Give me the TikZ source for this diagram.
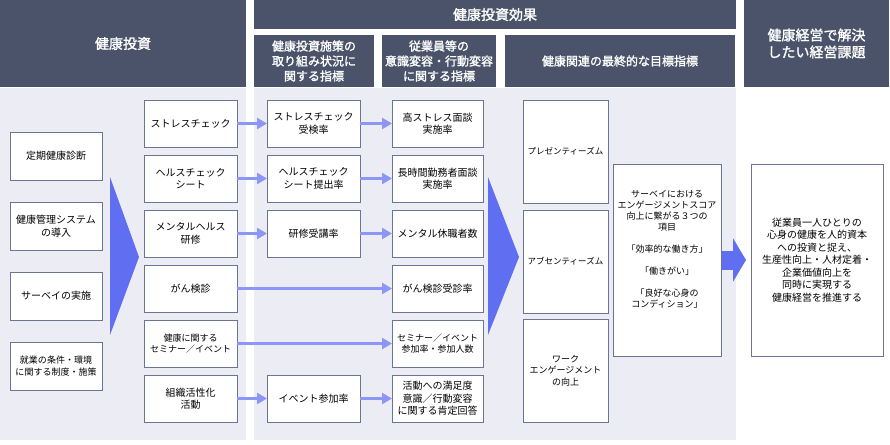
\documentclass[tikz,border=0pt]{standalone}
\usepackage{fontspec}
\setmainfont{Noto Sans CJK JP}[AutoFakeBold=1.5]
\usetikzlibrary{arrows.meta,positioning}
\definecolor{hdrgray}{RGB}{74,83,105}
\definecolor{panelgray}{RGB}{236,237,244}
\definecolor{boxline}{RGB}{108,116,150}
\definecolor{chevblue}{RGB}{96,110,242}
\definecolor{arrowblue}{RGB}{140,150,246}
\tikzset{
hdr/.style 2 args={fill=hdrgray,text=white,anchor=north west,inner sep=0pt,outer sep=0pt,align=center,minimum width=#1,minimum height=#2,font=\fontsize{14}{17}\selectfont\bfseries},
subhdr/.style 2 args={hdr={#1}{#2},font=\fontsize{12}{15}\selectfont\bfseries},
block/.style={draw=boxline,fill=white,line width=.9pt,align=center,minimum width=93pt,minimum height=47pt,inner sep=1pt,outer sep=0pt,font=\fontsize{10}{12.5}\selectfont},
leftblock/.style={block,minimum width=92pt,minimum height=48pt},
tallblock/.style={block,minimum width=85pt,minimum height=103pt,font=\fontsize{8.5}{11}\selectfont},
bigblock/.style={block,minimum height=192pt},
smallfont/.style={font=\fontsize{9}{11.5}\selectfont},
arrow/.style={-{Triangle[length=10pt,width=11pt]},line width=3pt,draw=arrowblue},
fatarrow/.style={-{Triangle[length=13pt,width=43pt]},line width=19pt,draw=chevblue}
}
\begin{document}
\begin{tikzpicture}[x=1pt,y=-1pt]
\useasboundingbox (0,0) rectangle (890,444);
% backgrounds
\fill[panelgray] (0,88) rectangle (246,440);
\fill[panelgray] (254,88) rectangle (736,440);

% headers
\node[hdr={246pt}{87pt}] (hinvest) at (0,0) {健康投資};
\node[hdr={482pt}{29pt}] (heffect) at (254,0) {健康投資効果};
\node[subhdr={120pt}{52pt}] (hmeasure) at (254,35) {健康投資施策の\\取り組み状況に\\関する指標};
\node[subhdr={114pt}{52pt}] (hbehav) at (382,35) {従業員等の\\意識変容・行動変容\\に関する指標};
\node[subhdr={230pt}{52pt}] (hfinal) at (505,35) {健康関連の最終的な目標指標};
\node[hdr={145pt}{87pt}] (hissue) at (744,0) {健康経営で解決\\したい経営課題};

% investment
\node[leftblock,anchor=north west] (checkup) at (10,132) {定期健康診断};
\node[leftblock,below=22pt of checkup] (hmsystem) {健康管理システム\\の導入};
\node[leftblock,below=22pt of hmsystem] (surveyrun) {サーベイの実施};
\node[leftblock,smallfont,below=22pt of surveyrun] (workrules) {就業の条件・環境\\に関する制度・施策};
\fill[chevblue] (110,177) -- (139,257) -- (110,335) -- cycle;

% measures
\node[block,anchor=north west] (stresschk) at (144,100) {ストレスチェック};
\node[block,below=8pt of stresschk] (healthchk) {ヘルスチェック\\シート};
\node[block,below=8pt of healthchk] (mentaltr) {メンタルヘルス\\研修};
\node[block,below=8pt of mentaltr] (cancer) {がん検診};
\node[block,smallfont,below=8pt of cancer] (seminar) {健康に関する\\セミナー／イベント};
\node[block,below=8pt of seminar] (orgact) {組織活性化\\活動};

\node[block,right=30pt of stresschk] (stressrate) {ストレスチェック\\受検率};
\node[block,right=30pt of healthchk] (sheetrate) {ヘルスチェック\\シート提出率};
\node[block,right=30pt of mentaltr] (trainrate) {研修受講率};
\node[block,right=30pt of orgact] (eventrate) {イベント参加率};

\node[block,minimum width=91pt,right=32pt of stressrate] (highstress) {高ストレス面談\\実施率};
\node[block,minimum width=91pt,below=8pt of highstress] (overtime) {長時間勤務者面談\\実施率};
\node[block,minimum width=91pt,below=8pt of overtime] (mentalleave) {メンタル休職者数};
\node[block,minimum width=91pt,below=8pt of mentalleave] (cancerrate) {がん検診受診率};
\node[block,minimum width=91pt,smallfont,below=8pt of cancerrate] (semrate) {セミナー／イベント\\参加率・参加人数};
\node[block,minimum width=91pt,below=8pt of semrate] (satisfaction) {活動への満足度\\意識／行動変容\\に関する肯定回答};

\draw[arrow] (stresschk) -- (stressrate);
\draw[arrow] (stressrate) -- (highstress);
\draw[arrow] (healthchk) -- (sheetrate);
\draw[arrow] (sheetrate) -- (overtime);
\draw[arrow] (mentaltr) -- (trainrate);
\draw[arrow] (trainrate) -- (mentalleave);
\draw[arrow] (cancer) -- (cancerrate);
\draw[arrow] (seminar) -- (semrate);
\draw[arrow] (orgact) -- (eventrate);
\draw[arrow] (eventrate) -- (satisfaction);

\fill[chevblue] (488,177) -- (519,257) -- (488,335) -- cycle;

% final targets
\node[tallblock,anchor=north west] (presentee) at (523,100) {プレゼンティーズム};
\node[tallblock,below=7pt of presentee] (absentee) {アブセンティーズム};
\node[tallblock,smallfont,below=6pt of absentee] (engage) {ワーク\\エンゲージメント\\の向上};

\node[bigblock,smallfont,minimum width=108pt,anchor=north west,font=\fontsize{9}{11}\selectfont] (engscore) at (613,164)
  {サーベイにおける\\エンゲージメントスコア\\向上に繋がる３つの\\項目\\[11pt]「効率的な働き方」\\[11pt]「働きがい」\\[11pt]「良好な心身の\\コンディション」\\[11pt]\mbox{}};
\node[bigblock,minimum width=132pt,right=30pt of engscore] (goal)
  {従業員一人ひとりの\\心身の健康を人的資本\\への投資と捉え、\\生産性向上・人材定着・\\企業価値向上を\\同時に実現する\\健康経営を推進する};

\draw[fatarrow] ([xshift=1pt]engscore.east) -- ([xshift=-5pt]goal.west);
\end{tikzpicture}
\end{document}
